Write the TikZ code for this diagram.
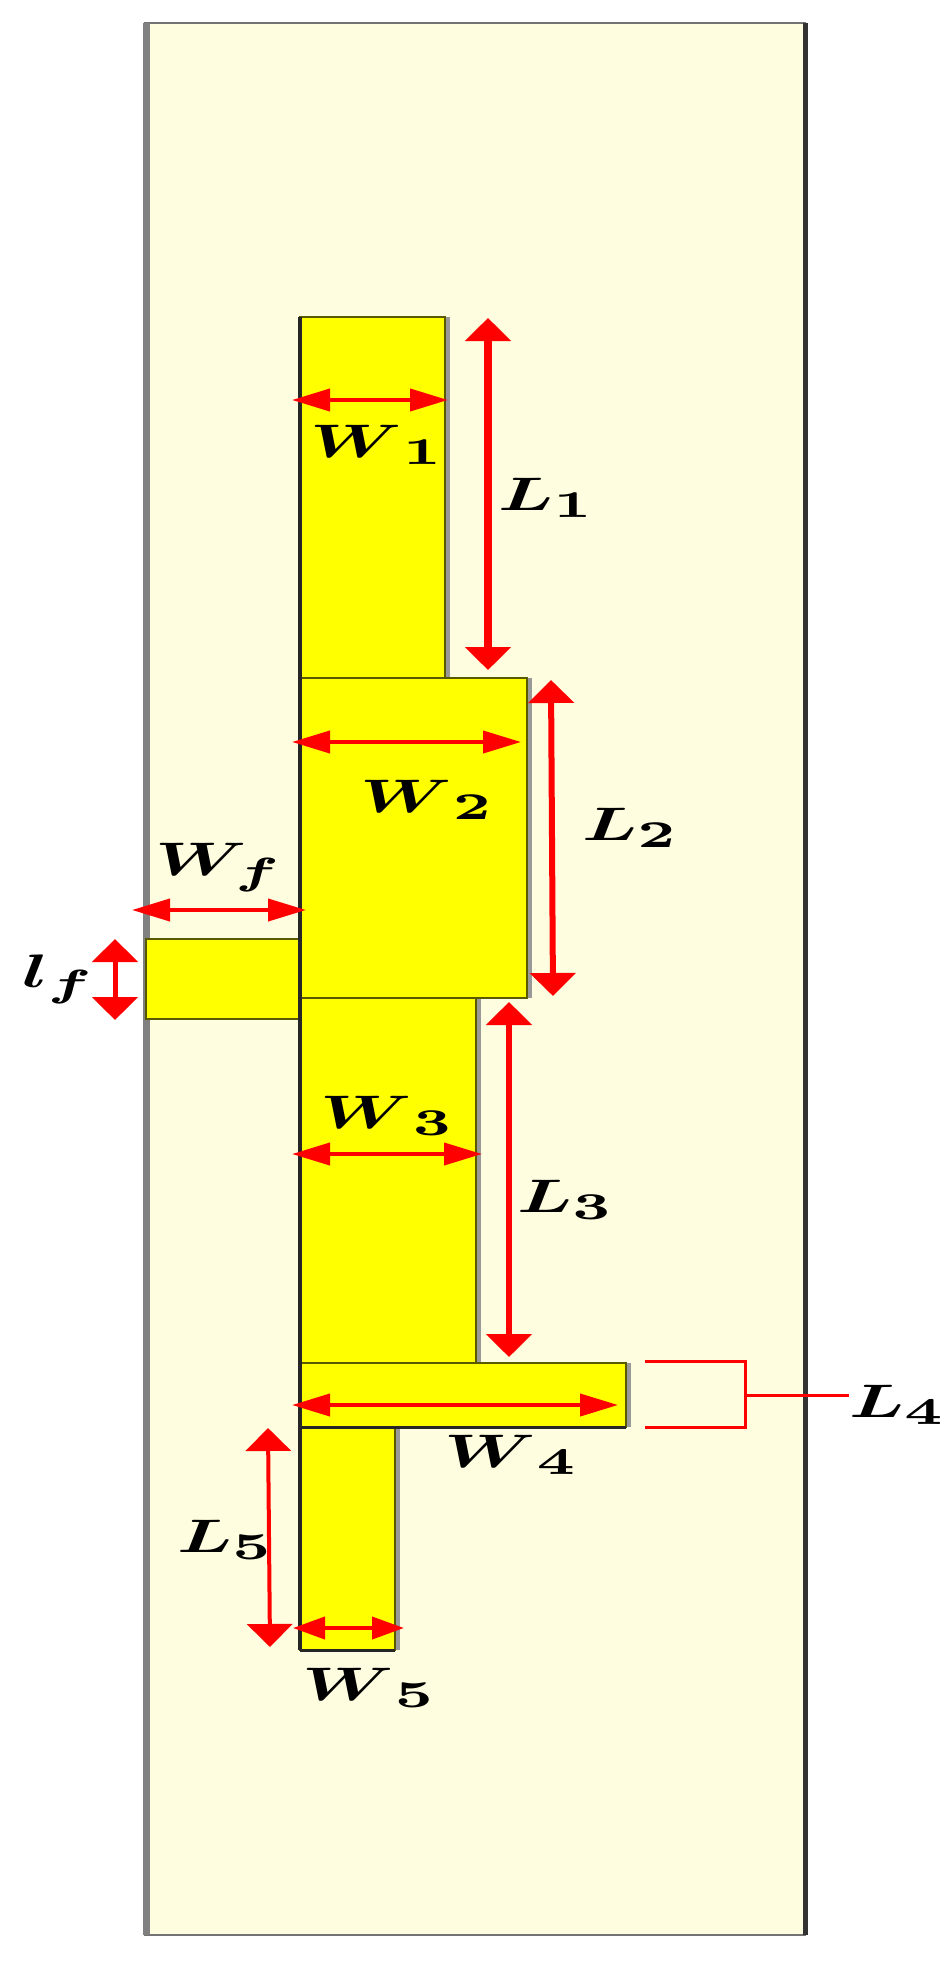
\documentclass[tikz,border=0pt]{standalone}
\usepackage{amsmath}
\usetikzlibrary{arrows.meta}

\definecolor{subcolor}{RGB}{255,253,224}
\definecolor{patchcolor}{RGB}{255,255,0}
\newcommand{\dimtext}[2]{\scalebox{7.3}[4.7]{\boldmath$#1_{\scalebox{1.15}{$\scriptstyle #2$}}$}}

\tikzset{
    patchbox/.style={fill=patchcolor, draw=black!65!patchcolor, line width=1.5pt},
    patchshade/.style={draw=black!40, line width=5pt},
    dimarrow/.style={{Triangle[length=23pt,width=45pt]}-{Triangle[length=23pt,width=45pt]}, draw=red, line width=6pt},
    dimthin/.style={{Triangle[length=38pt,width=22pt]}-{Triangle[length=38pt,width=22pt]}, draw=red, line width=4pt},
    bracketline/.style={draw=red, line width=3pt},
    dimlabel/.style={anchor=base west, inner sep=0pt, text=black}
}

\begin{document}
\begin{tikzpicture}[x=1pt,y=-1pt]
    \useasboundingbox (0,0) rectangle (952,1961);

    % 基板
    \fill[subcolor] (144,23) rectangle (806,1935);
    \draw[black!55, line width=1.5pt] (144,23) -- (806,23);
    \draw[black!55, line width=1.5pt] (144,1935) -- (806,1935);
    \draw[black!50, line width=7pt] (146,23) -- (146,1935);
    \draw[black!80, line width=5pt] (805,23) -- (805,1935);

    % 贴片阴影
    \draw[patchshade] (447,317) -- (447,678);
    \draw[patchshade] (529,678) -- (529,998);
    \draw[patchshade] (478,998) -- (478,1363);
    \draw[patchshade] (628,1363) -- (628,1427);
    \draw[patchshade] (397,1427) -- (397,1650);

    % 贴片
    \draw[patchbox] (300,317) rectangle (445,678);
    \draw[patchbox] (300,678) rectangle (527,998);
    \draw[patchbox] (300,998) rectangle (476,1363);
    \draw[patchbox] (300,1363) rectangle (626,1427);
    \draw[patchbox] (300,1427) rectangle (395,1650);
    \draw[patchbox] (146,939) rectangle (300,1019);
    \draw[black!85, line width=4pt] (300,317) -- (300,1650);
    \draw[black!85, line width=3pt] (300,1650) -- (395,1650);
    \draw[black!85, line width=3pt] (300,1427) -- (626,1427);

    % 箭头端点
    \coordinate (w1a) at (292,400);  \coordinate (w1b) at (448,400);
    \coordinate (w2a) at (292,742);  \coordinate (w2b) at (521,742);
    \coordinate (wfa) at (132,910);  \coordinate (wfb) at (306,910);
    \coordinate (w3a) at (292,1154); \coordinate (w3b) at (482,1154);
    \coordinate (w4a) at (292,1405); \coordinate (w4b) at (618,1405);
    \coordinate (w5a) at (293,1628); \coordinate (w5b) at (404,1628);
    \coordinate (l1a) at (488,318);  \coordinate (l1b) at (488,670);
    \coordinate (l2a) at (551,680);  \coordinate (l2b) at (553,996);
    \coordinate (l3a) at (509,1002); \coordinate (l3b) at (509,1357);
    \coordinate (lfa) at (115,939);  \coordinate (lfb) at (115,1020);
    \coordinate (l5a) at (268,1428); \coordinate (l5b) at (270,1647);
    \coordinate (b4a) at (645,1361); \coordinate (b4b) at (745,1361);
    \coordinate (b4c) at (745,1427); \coordinate (b4d) at (645,1427);
    \coordinate (b4m) at (745,1395);

    % 尺寸箭头
    \draw[dimthin] (w1a) -- (w1b);
    \draw[dimthin] (w2a) -- (w2b);
    \draw[dimthin] (wfa) -- (wfb);
    \draw[dimthin] (w3a) -- (w3b);
    \draw[dimthin] (w4a) -- (w4b);
    \draw[dimthin, {Triangle[length=32pt,width=22pt]}-{Triangle[length=32pt,width=22pt]}] (w5a) -- (w5b);
    \draw[dimarrow, line width=8pt] (l1a) -- (l1b);
    \draw[dimarrow] (l2a) -- (l2b);
    \draw[dimarrow] (l3a) -- (l3b);
    \draw[dimarrow, line width=5pt] (lfa) -- (lfb);
    \draw[dimarrow, line width=4pt] (l5a) -- (l5b);

    % L4 标注
    \draw[bracketline] (b4a) -- (b4b) -- (b4c) -- (b4d);
    \node[dimlabel] (labL4) at (849,1417) {\dimtext{L}{4}};
    \draw[bracketline] (b4m) -- (labL4.west |- b4m);

    % 标签
    \node[dimlabel] (labW1) at (310,457) {\dimtext{W}{\,1}};
    \node[dimlabel] (labL1) at (498,510) {\dimtext{L}{1}};
    \node[dimlabel] (labW2) at (360,812) {\dimtext{W}{\,2}};
    \node[dimlabel] (labL2) at (582,840) {\dimtext{L}{2}};
    \node[dimlabel] (labWf) at (155,875) {\dimtext{W}{f}};
    \node[dimlabel] (labLf) at (22,987) {\dimtext{l}{f}};
    \node[dimlabel] (labW3) at (320,1128) {\dimtext{W}{\,3}};
    \node[dimlabel] (labL3) at (517,1212) {\dimtext{L}{3}};
    \node[dimlabel] (labW4) at (444,1467) {\dimtext{W}{\,4}};
    \node[dimlabel] (labL5) at (177,1552) {\dimtext{L}{5}};
    \node[dimlabel] (labW5) at (302,1700) {\dimtext{W}{\,5}};
\end{tikzpicture}
\end{document}
